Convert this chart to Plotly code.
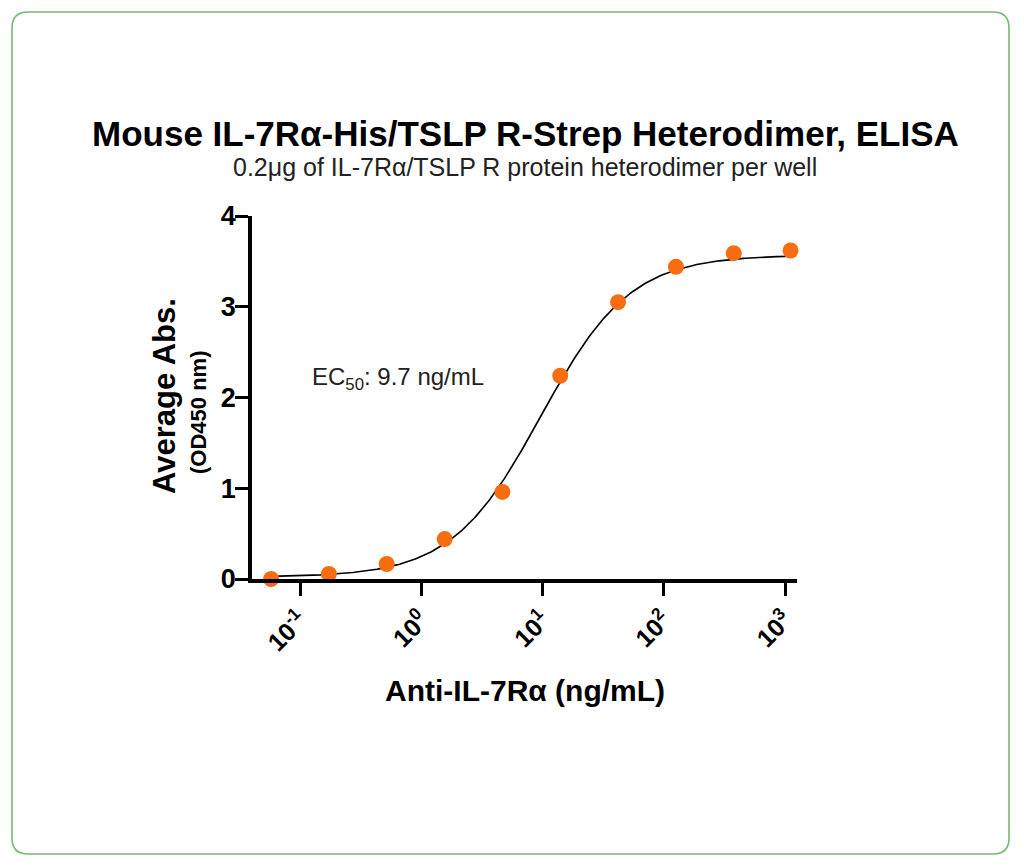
import numpy as np
import plotly.graph_objects as go

# ── Datos ─────────────────────────────────────────────────────────────────────
conc_ng_ml = [0.0577, 0.173, 0.519, 1.56, 4.67, 14.0, 42.0, 126, 378, 1111]
avg_abs = [0.00, 0.055, 0.165, 0.44, 0.96, 2.24, 3.05, 3.44, 3.59, 3.62]

# parámetros del ajuste 4PL
fit_bottom = 0.02
fit_top = 3.57
fit_ec50 = 9.7
fit_hill = 1.18

tick_vals = [0.1, 1, 10, 100, 1000]
tick_text = ["10<sup>-1</sup>", "10<sup>0</sup>", "10<sup>1</sup>",
             "10<sup>2</sup>", "10<sup>3</sup>"]

ORANGE = "#f86d12"
GREEN = "#74b96f"
FONT = "Liberation Sans, Arial, sans-serif"

# la página añade 8 px de margen al cuerpo
OFF = 8
W, H = 1024 - 2 * OFF, 866 - 2 * OFF
L, T = 252 - OFF, 216 - OFF
PW, PH = 797 - 252, 579 - 216
R, B = W - L - PW, H - T - PH


def px(x):
    # coordenada de pantalla -> papel
    return (x - OFF - L) / PW


def py(y):
    return 1 - (y - OFF - T) / PH


def label(text, x, y, size, color="black", angle=0):
    return dict(text=text, x=px(x), y=py(y), xref="paper", yref="paper",
                xanchor="center", yanchor="middle", textangle=angle,
                showarrow=False, font=dict(size=size, color=color))


# curva ajustada
xs = np.logspace(np.log10(conc_ng_ml[0]), np.log10(conc_ng_ml[-1]), 300)
ys = fit_bottom + (fit_top - fit_bottom) / (1 + (fit_ec50 / xs) ** fit_hill)

fig = go.Figure()
fig.add_trace(go.Scatter(x=xs, y=ys, mode="lines",
                         line=dict(color="black", width=1.6),
                         hoverinfo="skip", showlegend=False))
fig.add_trace(go.Scatter(x=conc_ng_ml, y=avg_abs, mode="markers",
                         marker=dict(color=ORANGE, size=16),
                         showlegend=False, cliponaxis=False))

# borde redondeado
x0, x1, y0, y1, r = px(12), px(1009), py(12), py(854), 16
rx = r / PW
ry = r / PH
path = (f"M {x0 + rx},{y0} L {x1 - rx},{y0} Q {x1},{y0} {x1},{y0 - ry} "
        f"L {x1},{y1 + ry} Q {x1},{y1} {x1 - rx},{y1} "
        f"L {x0 + rx},{y1} Q {x0},{y1} {x0},{y1 + ry} "
        f"L {x0},{y0 - ry} Q {x0},{y0} {x0 + rx},{y0} Z")
fig.add_shape(type="path", path=path, xref="paper", yref="paper",
              line=dict(color=GREEN, width=1.6), layer="below")

fig.update_layout(
    width=W, height=H,
    paper_bgcolor="white", plot_bgcolor="white",
    margin=dict(l=L, r=R, t=T, b=B),
    font=dict(family=FONT, color="black"),
    xaxis=dict(type="log", range=[-1.396, 3.099],
               tickvals=tick_vals, ticktext=tick_text, tickangle=-45,
               ticks="outside", ticklen=13, tickwidth=3, tickcolor="black",
               showline=True, linecolor="black", linewidth=3.5,
               showgrid=False, zeroline=False,
               tickfont=dict(size=25, family=FONT, weight="bold")),
    yaxis=dict(range=[0, 4], tickvals=[0, 1, 2, 3, 4],
               ticks="outside", ticklen=13, tickwidth=3, tickcolor="black",
               ticklabelstandoff=-6,
               showline=True, linecolor="black", linewidth=3.5,
               showgrid=False, zeroline=False,
               tickfont=dict(size=27, family=FONT, weight="bold")),
    annotations=[
        label("<b>Mouse IL-7Rα-His/TSLP R-Strep Heterodimer, ELISA</b>",
              525, 133, 35),
        label("0.2μg of IL-7Rα/TSLP R protein heterodimer per well",
              525, 167, 25, "#222222"),
        label("<b>Anti-IL-7Rα (ng/mL)</b>", 525, 690, 30),
        label("<b>Average Abs.</b>", 164, 396, 31, angle=-90),
        label("<b>(OD450 nm)</b>", 198, 413, 22, angle=-90),
        label("EC<sub>50</sub>: 9.7 ng/mL", 398, 378, 24, "#222222"),
    ],
)

fig.write_html("out.html")
